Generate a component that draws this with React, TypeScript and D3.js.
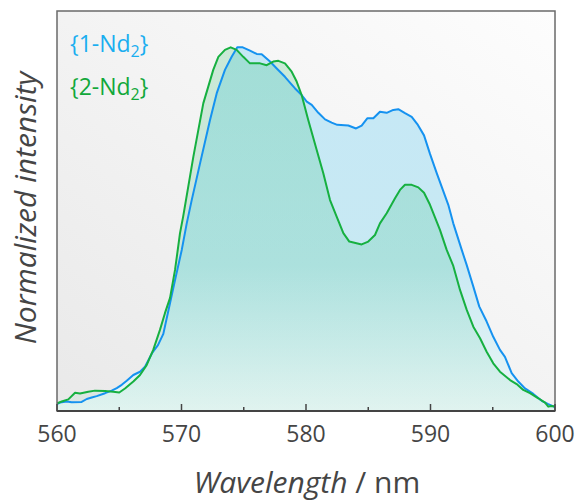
import React from "react";
import * as d3 from "d3";

const wl1 = [560.0,560.24,560.78,561.18,561.98,562.39,562.79,563.19,563.86,564.39,564.8,565.2,565.6,566.13,566.67,567.07,567.63,568.11,568.54,569.08,569.48,570.02,570.42,570.82,571.49,572.29,572.83,573.49,574.03,574.48,574.92,575.5,576.04,576.44,577.11,577.65,578.31,578.71,579.12,579.65,580.06,580.46,580.99,581.53,582.06,582.51,583.4,584.02,584.47,584.92,585.41,585.94,586.48,587.01,587.41,587.95,588.49,588.94,589.48,589.96,590.5,591.43,591.83,592.51,592.91,593.44,593.92,594.51,595.04,595.58,595.98,596.52,597.05,597.59,598.26,598.93,599.46,600.0];
const int1 = [0.019,0.023,0.026,0.024,0.025,0.033,0.037,0.041,0.049,0.056,0.063,0.072,0.083,0.099,0.108,0.122,0.159,0.181,0.212,0.297,0.36,0.443,0.516,0.58,0.681,0.8,0.874,0.938,0.974,1.0,1.0,0.991,0.982,0.981,0.961,0.942,0.919,0.903,0.887,0.869,0.851,0.842,0.82,0.802,0.793,0.787,0.785,0.777,0.785,0.805,0.805,0.823,0.82,0.828,0.83,0.819,0.809,0.789,0.758,0.707,0.654,0.567,0.516,0.443,0.401,0.342,0.287,0.246,0.204,0.168,0.149,0.104,0.081,0.062,0.047,0.028,0.019,0.011];

const wl2 = [560.0,560.38,560.91,561.45,561.85,562.51,563.05,563.86,564.52,565.0,565.46,566.13,566.67,567.2,567.73,568.27,568.67,569.08,569.48,569.88,570.14,570.95,571.75,572.15,572.55,572.96,573.49,573.95,574.43,574.96,575.5,576.31,576.84,577.37,577.78,578.31,578.85,579.25,579.65,580.18,580.86,581.39,581.93,582.47,583.0,583.48,584.47,585.0,585.54,585.94,586.48,587.15,587.55,587.95,588.49,589.02,589.48,589.96,590.76,591.3,591.83,592.37,592.91,593.44,593.98,594.51,595.04,595.58,596.39,596.92,597.45,597.99,598.66,599.2,599.46,599.73,600.0];
const int2 = [0.021,0.026,0.032,0.05,0.048,0.053,0.056,0.055,0.053,0.051,0.062,0.081,0.099,0.126,0.168,0.223,0.269,0.311,0.388,0.489,0.536,0.699,0.846,0.892,0.938,0.974,0.993,1.0,0.993,0.974,0.956,0.956,0.951,0.961,0.963,0.956,0.933,0.906,0.869,0.8,0.718,0.654,0.58,0.534,0.489,0.466,0.458,0.466,0.484,0.516,0.544,0.585,0.608,0.622,0.622,0.615,0.6,0.567,0.498,0.443,0.399,0.333,0.278,0.232,0.2,0.163,0.131,0.108,0.085,0.074,0.058,0.049,0.035,0.023,0.012,0.014,0.012];

const majorTicks = [560, 570, 580, 590, 600];
const minorTicks = [565, 575, 585, 595];
const seriesNames = ["1-Nd", "2-Nd"];

const W = 578, H = 503;
const L = 57, R = 555, T = 11, B = 411;

export default function App() {
  const x = d3.scaleLinear().domain([560, 600]).range([L, R]);
  const y = d3.scaleLinear().domain([0, 1.1]).range([B, T]);
  const d1: [number, number][] = wl1.map((w, i) => [w, int1[i]]);
  const d2: [number, number][] = wl2.map((w, i) => [w, int2[i]]);
  const area = d3.area<[number, number]>().x(d => x(d[0])).y0(y(0)).y1(d => y(d[1]));
  const line = d3.line<[number, number]>().x(d => x(d[0])).y(d => y(d[1]));
  const font = "'Open Sans', 'Noto Sans', sans-serif";
  const text = "#454545";
  return (
    <svg width={W} height={H} style={{ position: "fixed", left: 0, top: 0, background: "#fff" }} fontFamily={font}>
      <defs>
        <linearGradient id="bg" x1="1" y1="0" x2="0" y2="1">
          <stop offset="0" stopColor="#fdfdfd" />
          <stop offset="1" stopColor="#e9e9e9" />
        </linearGradient>
        <linearGradient id="gBlue" gradientUnits="userSpaceOnUse" x1="0" y1={y(1)} x2="0" y2={B}>
          <stop offset="0" stopColor="#c5e8f6" />
          <stop offset="0.6" stopColor="#c8e9f3" />
          <stop offset="1" stopColor="#ecf7f6" />
        </linearGradient>
        <linearGradient id="gGreen" gradientUnits="userSpaceOnUse" x1="0" y1={y(1)} x2="0" y2={B}>
          <stop offset="0" stopColor="rgb(0,175,70)" stopOpacity="0.18" />
          <stop offset="0.6" stopColor="rgb(0,175,90)" stopOpacity="0.14" />
          <stop offset="1" stopColor="rgb(0,175,110)" stopOpacity="0.05" />
        </linearGradient>
        <clipPath id="clip">
          <rect x={L} y={T} width={R - L} height={B - T} />
        </clipPath>
      </defs>
      <rect x={L} y={T} width={R - L} height={B - T} fill="url(#bg)" />
      <g clipPath="url(#clip)">
        <path d={area(d1) || ""} fill="url(#gBlue)" />
        <path d={area(d2) || ""} fill="url(#gGreen)" />
        <path d={line(d1) || ""} fill="none" stroke="#1592f0" strokeWidth={2} strokeLinejoin="round" />
        <path d={line(d2) || ""} fill="none" stroke="#16b040" strokeWidth={2} strokeLinejoin="round" />
      </g>
      <rect x={L} y={T} width={R - L} height={B - T} fill="none" stroke="#6a6a6a" strokeWidth={1.5} />
      <line x1={L} x2={R} y1={B} y2={B} stroke="#444" strokeWidth={2} />
      {majorTicks.map(t => (
        <g key={"M" + t}>
          <line x1={x(t)} x2={x(t)} y1={B} y2={B - 7} stroke="#444" strokeWidth={1.5} />
          <text x={x(t)} y={442} textAnchor="middle" fontSize={23} fill={text}>{t}</text>
        </g>
      ))}
      {minorTicks.map(t => (
        <line key={"m" + t} x1={x(t)} x2={x(t)} y1={B} y2={B - 4} stroke="#444" strokeWidth={1.5} />
      ))}
      <text x={307} y={493} textAnchor="middle" fontSize={30} fill={text}>
        <tspan fontStyle="italic">Wavelength</tspan> / nm
      </text>
      <text transform={`translate(36,208) rotate(-90)`} textAnchor="middle" fontSize={30} fontStyle="italic" fill={text}>
        Normalized intensity
      </text>
      <text x={70} y={52} fontSize={23} fill="#1aaef0">
        {"{" + seriesNames[0]}<tspan fontSize={16} dy={5}>2</tspan><tspan dy={-5}>{"}"}</tspan>
      </text>
      <text x={70} y={95} fontSize={23} fill="#12a83a">
        {"{" + seriesNames[1]}<tspan fontSize={16} dy={5}>2</tspan><tspan dy={-5}>{"}"}</tspan>
      </text>
    </svg>
  );
}
